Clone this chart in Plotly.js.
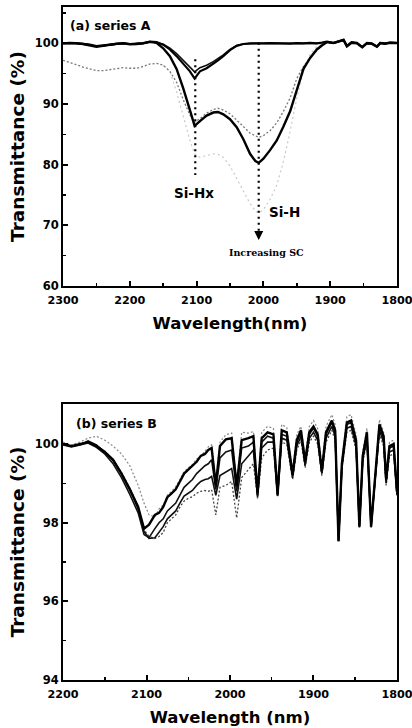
<!DOCTYPE html>
<html>
<head>
<meta charset="utf-8">
<script src="https://cdn.plot.ly/plotly-3.0.1.min.js"></script>
<style>html,body{margin:0;padding:0;background:#fff;}#chart{width:412px;height:728px;}</style>
</head>
<body>
<div id="chart"></div>
<script>
// ---------- Panel (a): series A ----------
var wlA = [2300, 2290, 2280, 2270, 2260, 2250, 2240, 2230, 2220, 2210, 2200, 2190, 2180, 2170, 2160, 2150, 2140, 2130, 2120, 2110, 2103, 2095, 2085, 2075, 2068, 2060, 2050, 2040, 2030, 2020, 2012, 2007, 2000, 1990, 1980, 1970, 1960, 1950, 1940, 1930, 1920, 1912, 1905, 1895, 1885, 1880, 1875, 1868, 1860, 1852, 1845, 1838, 1830, 1825, 1818, 1810, 1800];

var seriesA1 = [100.0, 100.1, 100.05, 99.95, 99.8, 99.55, 99.7, 99.85, 100.0, 100.05, 99.9, 99.95, 100.05, 100.3, 100.2, 99.8, 99.0, 97.9, 96.6, 95.4, 94.2, 95.4, 95.9, 96.6, 97.2, 97.9, 98.9, 99.6, 99.9, 100.0, 100.05, 100.0, 100.0, 100.05, 100.0, 100.05, 99.95, 100.05, 100.0, 100.1, 100.0, 100.15, 100.3, 100.1, 100.4, 100.6, 99.6, 100.2, 100.1, 99.4, 100.1, 100.0, 99.5, 100.1, 100.0, 100.15, 100.1];

var seriesA2 = [100.05, 100.1, 100.0, 99.9, 99.75, 99.5, 99.65, 99.8, 99.95, 100.0, 99.9, 99.95, 100.0, 100.25, 100.15, 99.85, 99.2, 98.3, 97.2, 96.0, 95.3, 96.0, 96.4, 97.0, 97.5, 98.1, 99.0, 99.65, 99.9, 100.0, 100.0, 100.0, 100.0, 100.0, 100.0, 100.0, 99.95, 100.0, 100.0, 100.05, 100.0, 100.1, 100.25, 100.05, 100.35, 100.55, 99.55, 100.15, 100.05, 99.4, 100.05, 99.95, 99.5, 100.05, 99.95, 100.1, 100.05];

var seriesA3 = [100.0, 100.05, 100.0, 99.9, 99.7, 99.45, 99.6, 99.8, 99.95, 100.0, 99.85, 99.9, 100.0, 100.25, 100.1, 99.2, 97.9, 95.8, 92.6, 89.0, 86.4, 87.2, 88.1, 88.6, 88.7, 88.3, 87.5, 86.2, 84.2, 81.8, 80.6, 80.3, 81.0, 82.4, 84.0, 86.3, 88.8, 92.3, 95.8, 97.6, 99.0, 99.7, 100.2, 100.05, 100.35, 100.55, 99.5, 100.1, 100.0, 99.35, 100.0, 99.95, 99.45, 100.05, 99.95, 100.1, 100.05];

var seriesA4 = [97.2, 96.9, 96.5, 96.1, 95.8, 95.5, 95.5, 95.7, 95.9, 96.0, 95.9, 95.9, 96.2, 96.6, 96.7, 96.4, 95.4, 93.6, 90.7, 88.2, 87.0, 87.6, 88.5, 89.1, 89.3, 89.0, 88.4, 87.4, 86.3, 85.2, 84.7, 84.5, 84.8, 85.6, 86.9, 88.8, 91.0, 94.2, 96.2, 97.6, 98.8, 99.7, 100.2, 100.05, 100.35, 100.55, 99.5, 100.1, 100.0, 99.35, 100.0, 99.95, 99.45, 100.05, 99.95, 100.1, 100.05];

var seriesA5 = [null, null, null, null, null, null, null, null, null, null, null, null, null, null, null, 96.4, 95.4, 92.0, 88.0, 84.0, 81.8, 81.2, 81.5, 81.8, 81.7, 81.2, 79.8, 77.8, 75.6, 73.6, 72.4, 72.0, 72.6, 74.3, 76.6, 80.5, 85.5, 91.0, 95.5, 98.2, 99.5, 100.0, null, null, null, null, null, null, null, null, null, null, null, null, null, null, null];

// ---------- Panel (b): series B ----------
var wlB = [2200, 2190, 2180, 2170, 2160, 2150, 2140, 2130, 2120, 2110, 2103, 2097, 2090, 2085, 2080, 2075, 2070, 2065, 2060, 2055, 2050, 2045, 2040, 2035, 2030, 2026, 2022, 2017, 2012, 2005, 1998, 1992, 1986, 1978, 1972, 1967, 1962, 1955, 1948, 1943, 1938, 1932, 1925, 1920, 1915, 1910, 1905, 1900, 1895, 1890, 1885, 1878, 1874, 1870, 1866, 1860, 1855, 1849, 1845, 1841, 1836, 1831, 1826, 1821, 1816, 1813, 1809, 1804, 1800];

var seriesB1 = [100.05, 99.98, 100.05, 100.15, 100.2, 100.1, 99.95, 99.75, 99.45, 98.95, 98.5, 98.2, 98.15, 98.35, 98.45, 98.7, 98.8, 98.92, 99.1, 99.3, 99.4, 99.48, 99.62, 99.7, 99.82, 99.93, 99.98, 99.05, 100.05, 100.24, 100.28, 99.0, 100.3, 100.28, 100.32, 98.85, 100.3, 100.45, 100.4, 98.8, 100.5, 100.42, 99.3, 100.25, 100.45, 99.62, 100.45, 100.6, 100.4, 99.4, 100.45, 100.75, 100.5, 97.6, 99.6, 100.7, 100.75, 100.25, 97.95, 99.8, 100.4, 97.95, 99.3, 100.62, 100.3, 99.15, 100.05, 100.1, 98.85];

var seriesB2 = [100.0, 99.95, 100.0, 100.05, 99.95, 99.8, 99.6, 99.25, 98.85, 98.4, 97.85, 97.95, 98.2, 98.25, 98.4, 98.65, 98.75, 98.85, 99.05, 99.25, 99.35, 99.45, 99.55, 99.7, 99.75, 99.85, 99.9, 98.95, 99.95, 100.12, 100.15, 98.93, 100.1, 100.15, 100.2, 98.75, 100.15, 100.3, 100.25, 98.72, 100.35, 100.3, 99.22, 100.1, 100.35, 99.56, 100.3, 100.45, 100.25, 99.31, 100.3, 100.6, 100.35, 97.53, 99.5, 100.55, 100.6, 100.1, 97.9, 99.7, 100.3, 97.9, 99.2, 100.5, 100.2, 99.1, 99.95, 100.0, 98.8];

var seriesB3 = [99.98, 99.93, 99.98, 100.03, 99.92, 99.75, 99.5, 99.15, 98.72, 98.25, 97.7, 97.62, 97.85, 98.0, 98.1, 98.3, 98.4, 98.5, 98.7, 98.9, 99.0, 99.1, 99.25, 99.35, 99.45, 99.5, 99.6, 98.85, 99.65, 99.8, 99.85, 98.8, 99.9, 99.95, 100.05, 98.7, 100.05, 100.2, 100.15, 98.7, 100.25, 100.2, 99.2, 100.05, 100.3, 99.5, 100.25, 100.4, 100.2, 99.28, 100.25, 100.55, 100.3, 97.53, 99.45, 100.5, 100.55, 100.05, 97.88, 99.65, 100.25, 97.88, 99.15, 100.45, 100.15, 99.05, 99.9, 99.95, 98.75];

var seriesB4 = [100.0, 99.95, 99.98, 100.08, 99.98, 99.8, 99.58, 99.25, 98.85, 98.35, 97.78, 97.6, 97.62, 97.75, 97.9, 98.1, 98.2, 98.3, 98.5, 98.68, 98.75, 98.82, 98.95, 99.05, 99.1, 99.12, 99.18, 98.7, 99.2, 99.3, 99.38, 98.6, 99.5, 99.7, 99.85, 98.65, 99.9, 100.05, 100.05, 98.68, 100.15, 100.1, 99.15, 99.95, 100.2, 99.45, 100.15, 100.3, 100.1, 99.25, 100.15, 100.45, 100.2, 97.55, 99.4, 100.4, 100.45, 99.95, 97.92, 99.6, 100.15, 97.92, 99.1, 100.35, 100.05, 99.0, 99.8, 99.85, 98.7];

var seriesB5 = [100.02, 99.96, 100.02, 100.05, 99.95, 99.82, 99.6, 99.28, 98.88, 98.4, 97.82, 97.65, 97.6, 97.65, 97.75, 98.0, 98.1, 98.2, 98.4, 98.55, 98.62, 98.66, 98.75, 98.8, 98.82, 98.8, 98.84, 98.2, 98.9, 98.95, 99.05, 98.12, 99.15, 99.35, 99.5, 98.62, 99.65, 99.85, 99.9, 98.65, 100.05, 100.0, 99.1, 99.85, 100.1, 99.4, 100.05, 100.2, 100.0, 99.2, 100.05, 100.35, 100.1, 97.58, 99.35, 100.3, 100.35, 99.85, 97.95, 99.55, 100.05, 97.95, 99.05, 100.25, 99.95, 98.95, 99.7, 99.75, 98.7];

// ---------- Labels ----------
var peakWavelengths = [2102, 2007];
var peakLabels = ["Si-Hx", "Si-H"];
var trendLabel = "Increasing SC";
var panelLabels = ["(a) series A", "(b) series B"];
var xTitles = ["Wavelength(nm)", "Wavelength (nm)"];
var yTitle = "Transmittance (%)";

var FONT = "DejaVu Sans, Verdana, sans-serif";

function tr(x, y, xa, ya, color, width, dash) {
  return {x: x, y: y, xaxis: xa, yaxis: ya, type: "scatter", mode: "lines",
          line: {color: color, width: width, dash: dash || "solid"},
          connectgaps: false, hoverinfo: "skip", showlegend: false};
}

var data = [
  tr(wlA, seriesA5, "x", "y", "#c8c8c8", 1.2, "2px,3px"),
  tr(wlA, seriesA4, "x", "y", "#777777", 1.3, "2px,2px"),
  tr(wlA, seriesA2, "x", "y", "#111111", 1.6),
  tr(wlA, seriesA1, "x", "y", "#000000", 2.2),
  tr(wlA, seriesA3, "x", "y", "#000000", 2.4),
  tr(wlB, seriesB1, "x2", "y2", "#888888", 1.2, "2px,2px"),
  tr(wlB, seriesB5, "x2", "y2", "#444444", 1.3, "2px,2px"),
  tr(wlB, seriesB4, "x2", "y2", "#111111", 1.6),
  tr(wlB, seriesB3, "x2", "y2", "#111111", 1.6),
  tr(wlB, seriesB2, "x2", "y2", "#000000", 2.4)
];

function xAxis(range, dtick, title, anchor) {
  return {
    range: range, dtick: dtick, tick0: 1800, anchor: anchor,
    showgrid: false, zeroline: false, showline: true, linecolor: "#000", linewidth: 2, mirror: true,
    ticks: "inside", ticklen: 5, tickwidth: 2, tickcolor: "#000", ticklabelstandoff: 3,
    ticklabeloverflow: "allow",
    minor: {dtick: dtick / 2, ticks: "inside", ticklen: 3, tickwidth: 1.5, tickcolor: "#000"},
    tickfont: {family: FONT, size: 11.2, color: "#000", weight: 700},
    title: {text: title, standoff: 11, font: {family: FONT, size: 16.5, color: "#000", weight: 700}}
  };
}
function yAxis(range, dtick, tick0, domain, anchor) {
  return {
    range: range, dtick: dtick, tick0: tick0, domain: domain, anchor: anchor,
    showgrid: false, zeroline: false, showline: true, linecolor: "#000", linewidth: 2, mirror: true,
    ticks: "inside", ticklen: 5, tickwidth: 2, tickcolor: "#000",
    minor: {dtick: dtick / 2, ticks: "inside", ticklen: 3, tickwidth: 1.5, tickcolor: "#000"},
    tickfont: {family: FONT, size: 11.5, color: "#000", weight: 700},
    title: {text: yTitle, standoff: 5, font: {family: FONT, size: 18.5, color: "#000", weight: 700}}
  };
}

var layout = {
  width: 412, height: 728,
  margin: {l: 63, r: 15, t: 7, b: 48},
  paper_bgcolor: "#fff", plot_bgcolor: "#fff",
  showlegend: false,
  font: {family: FONT, color: "#000"},
  xaxis: xAxis([2300.05, 1799.95], 100, xTitles[0], "y"),
  yaxis: yAxis([60, 106], 10, 60, [0.5854, 1], "x"),
  xaxis2: xAxis([2200.04, 1799.96], 100, xTitles[1], "y2"),
  yaxis2: yAxis([94, 101.02], 2, 94, [0, 0.4101], "x2"),
  shapes: [
    {type: "line", xref: "x", yref: "y", x0: peakWavelengths[0], x1: peakWavelengths[0], y0: 97.4, y1: 78.3,
     line: {color: "#000", width: 2.2, dash: "2px,4px"}},
    {type: "line", xref: "x", yref: "y", x0: peakWavelengths[1], x1: peakWavelengths[1], y0: 100.1, y1: 68.8,
     line: {color: "#000", width: 2.2, dash: "2px,4px"}}
  ],
  annotations: [
    {xref: "x domain", yref: "y domain", x: 0.015, y: 0.935, xanchor: "left", yanchor: "middle", showarrow: false,
     text: panelLabels[0], font: {family: FONT, size: 12.5, color: "#000", weight: 700}},
    {xref: "x2 domain", yref: "y2 domain", x: 0.033, y: 0.931, xanchor: "left", yanchor: "middle", showarrow: false,
     text: panelLabels[1], font: {family: FONT, size: 12.5, color: "#000", weight: 700}},
    {xref: "x", yref: "y", x: 2104, y: 75.3, showarrow: false, text: peakLabels[0],
     font: {family: FONT, size: 13.5, color: "#000", weight: 700}},
    {xref: "x", yref: "y", x: 1969, y: 72.2, showarrow: false, text: peakLabels[1],
     font: {family: FONT, size: 13.5, color: "#000", weight: 700}},
    {xref: "x", yref: "y", x: 1996, y: 65.5, showarrow: false, text: trendLabel,
     font: {family: "DejaVu Serif, serif", size: 9.5, color: "#000", weight: 700}},
    {xref: "x", yref: "y", x: peakWavelengths[1], y: 67.6, ax: 0, ay: -8, showarrow: true,
     arrowhead: 2, arrowsize: 1, arrowwidth: 1.8, arrowcolor: "#000", text: ""}
  ]
};

Plotly.newPlot("chart", data, layout, {staticPlot: true, displayModeBar: false});
</script>
</body>
</html>
